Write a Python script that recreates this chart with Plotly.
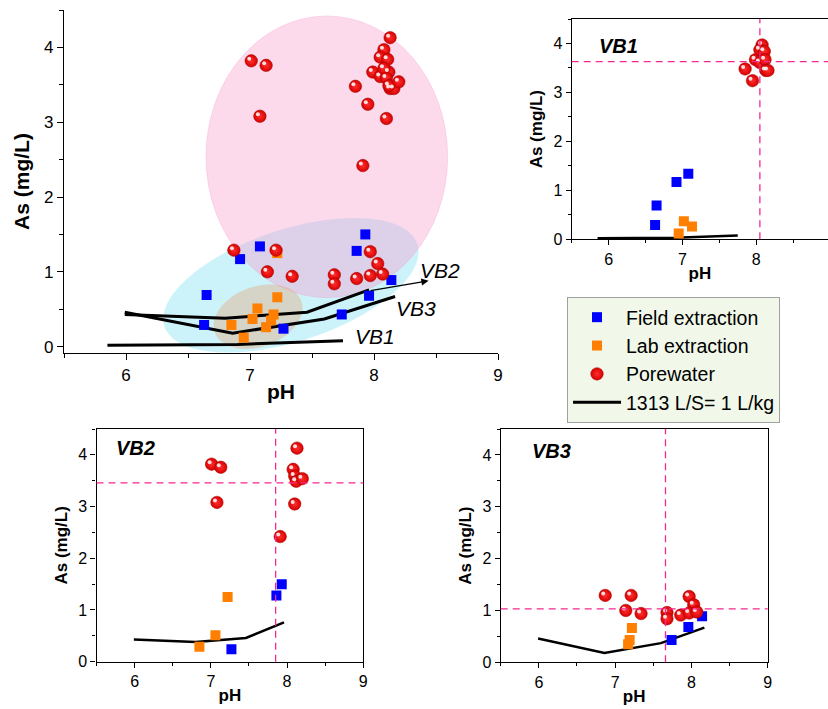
import numpy as np
import plotly.graph_objects as go

# ---------------- data ----------------
vb1_field_ph = [6.63, 6.65, 6.92, 7.08]
vb1_field_as = [0.29, 0.69, 1.17, 1.34]
vb1_lab_ph = [6.95, 7.02, 7.13]
vb1_lab_as = [0.12, 0.37, 0.26]
vb1_pore_ph = [7.85, 7.95, 7.99, 8.08, 8.05, 8.11, 8.05, 8.12, 8.13, 8.16]
vb1_pore_as = [3.48, 3.24, 3.67, 3.97, 3.87, 3.84, 3.61, 3.67, 3.45, 3.45]
vb1_line_ph = [5.85, 6.9, 7.75]
vb1_line_as = [0.02, 0.03, 0.08]

vb2_field_ph = [7.27, 7.86, 7.93]
vb2_field_as = [0.24, 1.28, 1.50]
vb2_lab_ph = [6.85, 7.06, 7.22]
vb2_lab_as = [0.29, 0.51, 1.25]
vb2_pore_ph = [7.01, 7.13, 7.08, 7.91, 8.08, 8.13, 8.10, 8.12, 8.20, 8.10]
vb2_pore_as = [3.82, 3.76, 3.08, 2.42, 3.72, 4.13, 3.59, 3.49, 3.54, 3.05]
vb2_line_ph = [5.99, 6.80, 7.46, 7.96]
vb2_line_as = [0.43, 0.38, 0.46, 0.76]

vb3_field_ph = [7.74, 7.96, 8.14]
vb3_field_as = [0.43, 0.68, 0.89]
vb3_lab_ph = [7.17, 7.19, 7.22]
vb3_lab_as = [0.35, 0.43, 0.66]
vb3_pore_ph = [6.87, 7.21, 7.14, 7.34, 7.68, 7.68, 7.86, 7.97, 8.03, 7.97, 8.07]
vb3_pore_as = [1.29, 1.29, 1.00, 0.94, 0.96, 0.84, 0.91, 1.27, 1.11, 0.95, 0.97]
vb3_line_ph = [5.99, 6.86, 7.60, 8.17]
vb3_line_as = [0.46, 0.18, 0.37, 0.67]

# median reference lines in the site panels (pH, As)
vb1_ref = (8.05, 3.63)
vb2_ref = (7.85, 3.46)
vb3_ref = (7.66, 1.03)

site_names = ["VB1", "VB2", "VB3"]
legend_names = ["Field extraction", "Lab extraction", "Porewater", "1313 L/S= 1 L/kg"]

# ---------------- styling ----------------
W, H = 828, 709
FONT = "Arial, Liberation Sans, sans-serif"
BLUE = "#0000FF"
ORANGE = "#FF7F00"
PINKDASH = "#F5288F"

def px2fx(p):
    return p / W

def py2fy(p):
    return 1 - p / H

# panel geometry in pixels: (left, right, top, bottom, xrange, yrange)
panels = {
    "": (64, 498, 10, 353, [5.5, 9], [-0.085, 4.5]),
    "2": (571.7, 828, 19, 239.3, [5.5, 8.973], [0, 4.5]),
    "3": (96.5, 363.3, 429, 661.7, [5.5, 9], [0, 4.5]),
    "4": (500.7, 767.7, 429, 662.3, [5.5, 9], [0, 4.5]),
}

def scale(key):
    l, r, t, b, xr, yr = panels[key]
    return (r - l) / (xr[1] - xr[0]), (b - t) / (yr[1] - yr[0])

fig = go.Figure()

sites = [
    (vb1_field_ph, vb1_field_as, vb1_lab_ph, vb1_lab_as, vb1_pore_ph, vb1_pore_as, vb1_line_ph, vb1_line_as),
    (vb2_field_ph, vb2_field_as, vb2_lab_ph, vb2_lab_as, vb2_pore_ph, vb2_pore_as, vb2_line_ph, vb2_line_as),
    (vb3_field_ph, vb3_field_as, vb3_lab_ph, vb3_lab_as, vb3_pore_ph, vb3_pore_as, vb3_line_ph, vb3_line_as),
]

def sq(color):
    return dict(symbol="square", size=10, color=color, line=dict(width=0))

sphere = dict(symbol="circle", size=12.5, color="#D80000",
              line=dict(width=0.5, color="#A00000"),
              gradient=dict(type="radial", color="#FF3030"))

def add_spheres(xs, ys, key, **kw):
    xa = "x" + key
    ya = "y" + key
    fig.add_trace(go.Scatter(x=xs, y=ys, mode="markers", xaxis=xa, yaxis=ya, marker=sphere, **kw))
    sx, sy = scale(key)
    hx = [v - 2.0 / sx for v in xs]
    hy = [v + 2.0 / sy for v in ys]
    fig.add_trace(go.Scatter(x=hx, y=hy, mode="markers", xaxis=xa, yaxis=ya, hoverinfo="skip",
                             marker=dict(symbol="circle", size=4, color="rgba(255,255,255,0.85)",
                                         line=dict(width=0)),
                             showlegend=False))

# ---- main panel: lines first, then markers ----
for i, s in enumerate(sites):
    fig.add_trace(go.Scatter(x=s[6], y=s[7], mode="lines", xaxis="x", yaxis="y",
                             line=dict(color="black", width=3),
                             name=legend_names[3], legendgroup="line",
                             showlegend=(i == 0), legendrank=4))

all_field_ph = sum([s[0] for s in sites], [])
all_field_as = sum([s[1] for s in sites], [])
all_lab_ph = sum([s[2] for s in sites], [])
all_lab_as = sum([s[3] for s in sites], [])
all_pore_ph = sum([s[4] for s in sites], [])
all_pore_as = sum([s[5] for s in sites], [])

fig.add_trace(go.Scatter(x=all_field_ph, y=all_field_as, mode="markers", xaxis="x", yaxis="y",
                         marker=sq(BLUE), name=legend_names[0], legendgroup="field", legendrank=1))
fig.add_trace(go.Scatter(x=all_lab_ph, y=all_lab_as, mode="markers", xaxis="x", yaxis="y",
                         marker=sq(ORANGE), name=legend_names[1], legendgroup="lab", legendrank=2))
add_spheres(all_pore_ph, all_pore_as, "", name=legend_names[2], legendgroup="pore", legendrank=3)

# ---- site panels ----
for i, s in enumerate(sites):
    key = str(i + 2)
    xa, ya = "x" + key, "y" + key
    fig.add_trace(go.Scatter(x=s[6], y=s[7], mode="lines", xaxis=xa, yaxis=ya,
                             line=dict(color="black", width=2.5), showlegend=False))
    fig.add_trace(go.Scatter(x=s[0], y=s[1], mode="markers", xaxis=xa, yaxis=ya,
                             marker=sq(BLUE), showlegend=False))
    fig.add_trace(go.Scatter(x=s[2], y=s[3], mode="markers", xaxis=xa, yaxis=ya,
                             marker=sq(ORANGE), showlegend=False))
    add_spheres(s[4], s[5], key, showlegend=False)

# ---------------- axes ----------------
def axis_common(size, ticklen, minorlen):
    return dict(showgrid=False, zeroline=False, showline=True, linecolor="black", linewidth=1.2,
                ticks="outside", ticklen=ticklen, tickwidth=1.2, tickcolor="black", automargin=False,
                minor=dict(ticks="outside", ticklen=minorlen, tickwidth=1, tickcolor="black", dtick=0.5),
                tickfont=dict(family=FONT, size=size, color="black"))

def title(text, size, standoff):
    return dict(text="<b>%s</b>" % text, font=dict(family=FONT, size=size, color="black"), standoff=standoff)

layout_axes = {}
for key, (l, r, t, b, xr, yr) in panels.items():
    main = key == ""
    fs = 17 if main else 16
    tl, ml = (6, 4) if main else (5, 3)
    layout_axes["xaxis" + key] = dict(axis_common(fs, tl, ml), domain=[px2fx(l), min(1.0, px2fx(r))],
                                      range=xr, dtick=1, anchor="y" + key, mirror=(not main),
                                      title=title("pH", 21 if main else 17, 0))
    layout_axes["yaxis" + key] = dict(axis_common(fs, tl, ml), domain=[py2fy(b), py2fy(t)],
                                      range=yr, dtick=1, tick0=0, anchor="x" + key,
                                      mirror=(key in ("3", "4")),
                                      title=title("As (mg/L)", 21 if main else 17, 8 if main else 6))

# ---------------- ellipses (main panel) ----------------
XPX, YPX = scale("")

def tilted_ellipse(cx, cy, a_px, b_px, theta_deg, n=90):
    t = np.linspace(0, 2 * np.pi, n)
    th = np.deg2rad(theta_deg)
    dx = a_px * np.cos(t) * np.cos(th) - b_px * np.sin(t) * np.sin(th)
    dy = a_px * np.cos(t) * np.sin(th) + b_px * np.sin(t) * np.cos(th)
    xs = cx + dx / XPX
    ys = cy + dy / YPX
    return "M " + " L ".join("%.4f,%.4f" % (x, y) for x, y in zip(xs, ys)) + " Z"

shapes = [
    dict(type="path", path=tilted_ellipse(7.33, 0.82, 133, 56, 18), xref="x", yref="y",
         fillcolor="rgba(130,225,242,0.4)", line=dict(width=0), layer="below"),
    dict(type="circle", x0=6.645, x1=8.594, y0=0.655, y1=4.42, xref="x", yref="y",
         fillcolor="rgba(250,150,202,0.36)", line=dict(width=0.6, color="rgba(240,150,200,0.5)"), layer="below"),
    dict(type="path", path=tilted_ellipse(7.065, 0.40, 46, 30, 20), xref="x", yref="y",
         fillcolor="rgba(225,175,135,0.45)", line=dict(width=0), layer="below"),
]

# dashed reference lines in site panels
for i, ref in enumerate([vb1_ref, vb2_ref, vb3_ref]):
    xa, ya = "x%d" % (i + 2), "y%d" % (i + 2)
    shapes.append(dict(type="line", xref=xa, yref=ya + " domain", x0=ref[0], x1=ref[0], y0=0, y1=1,
                       line=dict(color=PINKDASH, width=1.3, dash="7px,5px")))
    shapes.append(dict(type="line", xref=xa + " domain", yref=ya, x0=0, x1=1, y0=ref[1], y1=ref[1],
                       line=dict(color=PINKDASH, width=1.3, dash="7px,5px")))

# ---------------- annotations ----------------
annotations = [
    dict(x=8.44, y=0.88, ax=7.96, ay=0.745, xref="x", yref="y", axref="x", ayref="y",
         text="", showarrow=True, arrowhead=2, arrowsize=1.2, arrowwidth=1.2, arrowcolor="black"),
    dict(x=8.53, y=1.02, xref="x", yref="y", text="<i>VB2</i>", showarrow=False,
         font=dict(family=FONT, size=21, color="black")),
    dict(x=8.34, y=0.51, xref="x", yref="y", text="<i>VB3</i>", showarrow=False,
         font=dict(family=FONT, size=21, color="black")),
    dict(x=8.01, y=0.13, xref="x", yref="y", text="<i>VB1</i>", showarrow=False,
         font=dict(family=FONT, size=21, color="black")),
]
label_pos = [(6.13, 3.94), (6.01, 4.13), (6.16, 4.07)]
for i, (lx, ly) in enumerate(label_pos):
    annotations.append(dict(x=lx, y=ly, xref="x%d" % (i + 2), yref="y%d" % (i + 2),
                            text="<b><i>%s</i></b>" % site_names[i], showarrow=False,
                            font=dict(family=FONT, size=20, color="black")))

fig.update_layout(
    template="none",
    width=W, height=H,
    margin=dict(l=0, r=0, t=0, b=0, autoexpand=False),
    paper_bgcolor="white", plot_bgcolor="rgba(0,0,0,0)",
    font=dict(family=FONT, color="black"),
    shapes=shapes, annotations=annotations,
    legend=dict(x=px2fx(567), y=py2fy(297), xanchor="left", yanchor="top",
                bgcolor="#F1F8E9", bordercolor="#A0A0A0", borderwidth=1,
                font=dict(family=FONT, size=19.5, color="black"),
                tracegroupgap=0, itemwidth=48),
    **layout_axes,
)

# the page's default 8px body margin would shift the figure; remove it
fig.write_html("out.html", config={"displayModeBar": False},
               post_script="document.body.style.margin='0';document.body.style.overflow='hidden';")
